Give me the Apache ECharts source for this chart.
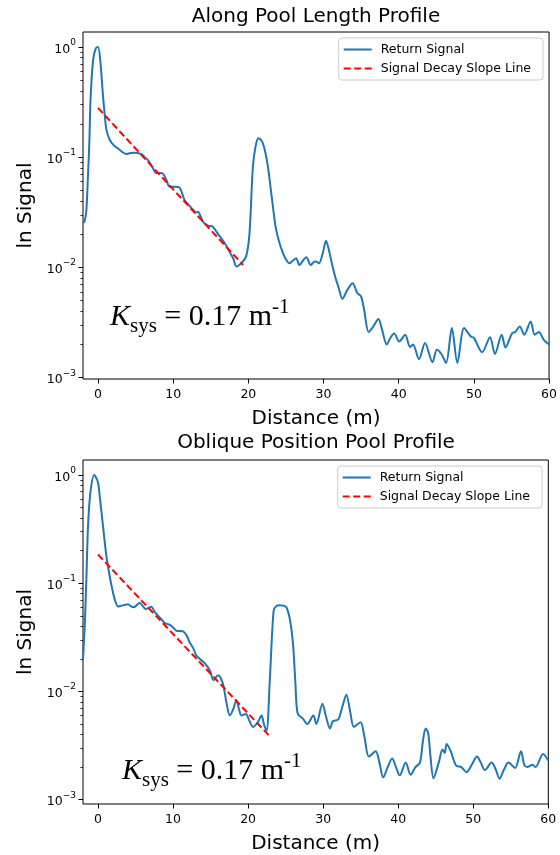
<!DOCTYPE html>
<html><head><meta charset="utf-8">
<script src="https://cdn.jsdelivr.net/npm/echarts@6/dist/echarts.min.js"></script>
<style>html,body{margin:0;padding:0;background:#fff}#c{width:560px;height:855px}</style>
</head><body><div id="c"></div>
<script>
// ---------- data ----------
const topDist = [-2.0,-1.8,-1.55,-1.33,-1.15,-1.0,-0.66,-0.3,0,0.3,0.66,0.9,1.1,1.55,2.1,2.66,3.2,3.77,4.3,4.8,5.3,5.76,6.2,6.64,7.2,7.75,8.2,8.63,9.1,9.52,10.2,10.85,11.5,12.2,12.7,13.07,13.3,13.95,14.6,15.27,15.9,16.5,17.0,17.5,18.0,18.4,19.04,19.7,20.15,20.6,21.0,21.35,21.8,22.2,22.6,23.0,23.4,23.7,24.1,24.6,25.0,25.45,25.9,26.35,26.8,27.25,27.7,28.3,28.7,29.0,29.4,29.9,30.33,30.7,31.2,31.6,32.0,32.5,33.2,33.86,34.5,35.0,35.4,36.0,36.6,37.3,37.8,38.4,38.9,39.4,40.07,40.86,41.5,41.9,42.7,43.5,44.5,45.07,45.7,46.3,47.07,47.8,48.7,49.6,50.0,51.1,52.15,52.8,53.7,54.2,55.1,55.5,56.1,56.7,57.55,58.1,58.65,59.3,60.0];
const topSignal = [0.0255,0.026,0.033,0.07,0.14,0.33,0.76,0.97,1.0,0.75,0.36,0.24,0.18,0.144,0.128,0.12,0.112,0.107,0.109,0.11,0.109,0.107,0.1,0.094,0.082,0.0716,0.072,0.071,0.062,0.054,0.054,0.053,0.041,0.036,0.033,0.0315,0.032,0.026,0.024,0.0234,0.0204,0.018,0.016,0.0139,0.012,0.0102,0.0109,0.0126,0.0204,0.082,0.13,0.149,0.14,0.115,0.082,0.05,0.03,0.0219,0.017,0.0135,0.0118,0.0109,0.0115,0.0121,0.0105,0.0115,0.0124,0.0105,0.0112,0.0113,0.0109,0.0135,0.0175,0.0145,0.0102,0.008,0.0066,0.0052,0.0063,0.0072,0.00585,0.00545,0.00413,0.0026,0.0029,0.0034,0.0027,0.002,0.0023,0.00251,0.00213,0.00245,0.0019,0.002,0.00147,0.00206,0.00138,0.00179,0.00163,0.00136,0.00282,0.00136,0.00282,0.00236,0.0023,0.0017,0.00233,0.00164,0.00245,0.00188,0.00254,0.0026,0.00291,0.00245,0.00323,0.00245,0.0026,0.0022,0.002];
const topSlopeDist = [0, 19.3];
const topSlopeSignal = [0.28, 0.0105];

const botDist = [-2.0,-1.77,-1.55,-1.33,-1.0,-0.5,0.0,0.23,0.67,1.12,1.56,1.9,2.23,2.67,3.1,3.5,4.0,4.4,4.8,5.2,5.56,6.0,6.36,6.7,7.1,7.5,8.0,8.5,8.9,9.56,10.0,10.45,11.3,11.8,12.2,12.7,13.1,13.56,14.3,14.9,15.4,16.0,16.3,16.7,17.1,17.56,18.0,18.45,18.8,19.1,19.7,20.2,20.67,21.3,21.8,22.1,22.45,22.9,23.4,23.8,24.2,24.7,25.1,25.6,26.0,26.3,26.6,27.3,27.9,28.7,29.1,29.9,30.4,30.9,31.3,32.0,32.5,33.1,33.6,34.1,34.98,35.5,36.1,37.0,37.5,38.0,38.6,39.2,39.7,40.2,41.0,41.65,42.3,42.9,43.3,43.65,44.0,44.3,44.7,45.4,45.9,46.2,46.45,47.0,47.7,48.4,49.1,49.8,50.5,51.0,51.56,52.45,53.0,53.5,54.1,54.7,55.56,56.36,56.8,57.2,57.9,58.3,59.3,60.0];
const botSignal = [0.02,0.04,0.11,0.335,0.7,1.0,0.85,0.632,0.335,0.178,0.116,0.088,0.071,0.061,0.062,0.063,0.064,0.061,0.06,0.063,0.066,0.061,0.0576,0.059,0.0605,0.055,0.05,0.046,0.0428,0.0412,0.039,0.0364,0.036,0.033,0.0285,0.025,0.0215,0.02,0.018,0.0156,0.0127,0.0141,0.0135,0.0114,0.008,0.006,0.0068,0.0083,0.0068,0.006,0.0062,0.0053,0.0047,0.0052,0.006,0.005,0.0043,0.0131,0.0556,0.062,0.0627,0.062,0.06,0.045,0.0265,0.012,0.00625,0.0056,0.005,0.006,0.005,0.0077,0.0058,0.00455,0.0053,0.0055,0.007,0.0093,0.0065,0.0047,0.0052,0.0038,0.0025,0.0028,0.0022,0.0016,0.002,0.0024,0.002,0.00168,0.0022,0.0017,0.002,0.0022,0.0035,0.00455,0.0041,0.0025,0.00158,0.0022,0.0029,0.0027,0.00327,0.0028,0.00207,0.002,0.00179,0.0021,0.0025,0.0022,0.00188,0.0022,0.0019,0.00156,0.0019,0.0022,0.00196,0.0028,0.0021,0.002,0.0021,0.002,0.00264,0.0023];
const botSlopeDist = [0, 22.8];
const botSlopeSignal = [0.184, 0.0039];

const xTicks = [0, 10, 20, 30, 40, 50, 60];
const yDecades = [-3, -2, -1, 0];          // 10^-3 ... 10^0
const minorMultipliers = [2, 3, 4, 5, 6, 7, 8, 9];
const titles = ['Along Pool Length Profile', 'Oblique Position Pool Profile'];

// ---------- helpers ----------
const FONT = 'DejaVu Sans';
const toLog = (xs, ys) => xs.map((x, i) => [x, Math.log10(ys[i])]);
const minorTicks = [];
yDecades.forEach(k => minorMultipliers.forEach(m => { const v = Math.log10(m) + k; if (v < 0.13) minorTicks.push(v); }));
const sup = v => (v < 0 ? '\u2212' + (-v) : '' + v);

const panels = [
  {top: 32, height: 347, width: 466.5, ymin: -3.012, ymax: 0.136, titleTop: 7, legendTop: 38, legendRight: 17},
  {top: 460, height: 346, width: 465.3, ymin: -3.04, ymax: 0.138, titleTop: 433, legendTop: 466, legendRight: 18}
];

const grid = [], xAxis = [], yAxis = [], title = [], legend = [];
panels.forEach((p, i) => {
  grid.push({left: 83, top: p.top, width: p.width, height: p.height, show: true, borderColor: '#000', borderWidth: 1, backgroundColor: 'transparent'});
  xAxis.push({
    type: 'value', gridIndex: i, min: -2, max: 60, position: 'bottom',
    name: 'Distance (m)', nameLocation: 'middle', nameGap: 30,
    nameTextStyle: {fontFamily: FONT, fontSize: 20, color: '#000'},
    axisLine: {show: false, onZero: false}, splitLine: {show: false},
    axisTick: {show: true, inside: false, customValues: xTicks, length: 4.5, lineStyle: {color: '#000', width: 1}},
    axisLabel: {customValues: xTicks, fontFamily: FONT, fontSize: 12.5, color: '#000', margin: 9}
  });
  yAxis.push({
    type: 'value', gridIndex: i, min: p.ymin, max: p.ymax, position: 'left',
    name: 'ln Signal', nameLocation: 'middle', nameGap: 47,
    nameTextStyle: {fontFamily: FONT, fontSize: 20, color: '#000'},
    axisLine: {show: false, onZero: false}, splitLine: {show: false},
    axisTick: {show: true, inside: false, customValues: yDecades, length: 4.5, lineStyle: {color: '#000', width: 1}},
    axisLabel: {
      customValues: yDecades, margin: 7,
      formatter: v => '{b|10}{e|' + sup(Math.round(v)) + '}',
      rich: {
        b: {fontFamily: FONT, fontSize: 12.5, color: '#000', lineHeight: 18, verticalAlign: 'bottom'},
        e: {fontFamily: FONT, fontSize: 9, color: '#000', verticalAlign: 'top', lineHeight: 12}
      }
    }
  });
  title.push({text: titles[i], left: 316, textAlign: 'center', top: p.titleTop, padding: 0,
    textStyle: {fontFamily: FONT, fontSize: 20, fontWeight: 'normal', color: '#000'}});
  legend.push({
    data: ['Return Signal', 'Signal Decay Slope Line'], orient: 'vertical',
    right: p.legendRight, top: p.legendTop, padding: [5, 12, 5, 4],
    itemWidth: 28, itemHeight: 14, itemGap: 6,
    itemStyle: {color: 'rgba(0,0,0,0)', borderColor: 'rgba(0,0,0,0)', borderWidth: 0, opacity: 0},
    borderColor: '#cccccc', borderWidth: 1, borderRadius: 3, backgroundColor: 'rgba(255,255,255,0.8)',
    textStyle: {fontFamily: FONT, fontSize: 12.5, color: '#000', padding: [0, 0, 0, 4]}
  });
});
// minor-tick axes (log minor ticks)
panels.forEach((p, i) => {
  yAxis.push({
    type: 'value', gridIndex: i, min: p.ymin, max: p.ymax, position: 'left',
    axisLine: {show: false, onZero: false}, splitLine: {show: false}, axisLabel: {show: false},
    axisTick: {show: true, inside: false, customValues: minorTicks, length: 2.6, lineStyle: {color: '#000', width: 0.8}}
  });
});

const blue = '#1f77b4';
const series = [
  {name: 'Return Signal', type: 'line', xAxisIndex: 0, yAxisIndex: 0, data: toLog(topDist, topSignal),
   symbol: 'none', smooth: 0.3, lineStyle: {color: blue, width: 2}, itemStyle: {color: blue}, z: 2},
  {name: 'Signal Decay Slope Line', type: 'line', xAxisIndex: 0, yAxisIndex: 0, data: toLog(topSlopeDist, topSlopeSignal),
   symbol: 'none', lineStyle: {color: '#ff0000', width: 2, type: [7, 3.5]}, itemStyle: {color: '#ff0000'}, z: 3},
  {name: 'Return Signal', type: 'line', xAxisIndex: 1, yAxisIndex: 1, data: toLog(botDist, botSignal),
   symbol: 'none', smooth: 0.3, lineStyle: {color: blue, width: 2}, itemStyle: {color: blue}, z: 2},
  {name: 'Signal Decay Slope Line', type: 'line', xAxisIndex: 1, yAxisIndex: 1, data: toLog(botSlopeDist, botSlopeSignal),
   symbol: 'none', lineStyle: {color: '#ff0000', width: 2, type: [7, 3.5]}, itemStyle: {color: '#ff0000'}, z: 3}
];

const SERIF = 'Liberation Serif';
const kRich = {
  k: {fontFamily: SERIF, fontStyle: 'italic', fontSize: 30, lineHeight: 40, fill: '#000'},
  s: {fontFamily: SERIF, fontSize: 21, lineHeight: 36, verticalAlign: 'bottom', fill: '#000'},
  n: {fontFamily: SERIF, fontSize: 30, lineHeight: 40, fill: '#000'},
  p: {fontFamily: SERIF, fontSize: 21, lineHeight: 26, verticalAlign: 'top', fill: '#000'}
};
const kText = '{k|K}{s|sys}{n| = 0.17 m}{p|-1}';
const graphic = [
  {type: 'text', x: 110, y: 297, style: {text: kText, rich: kRich, fill: '#000'}},
  {type: 'text', x: 122, y: 751, style: {text: kText, rich: kRich, fill: '#000'}}
];

const chart = echarts.init(document.getElementById('c'), null, {renderer: 'canvas'});
chart.setOption({animation: false, backgroundColor: '#fff', title, legend, grid, xAxis, yAxis, series, graphic});
</script></body></html>
